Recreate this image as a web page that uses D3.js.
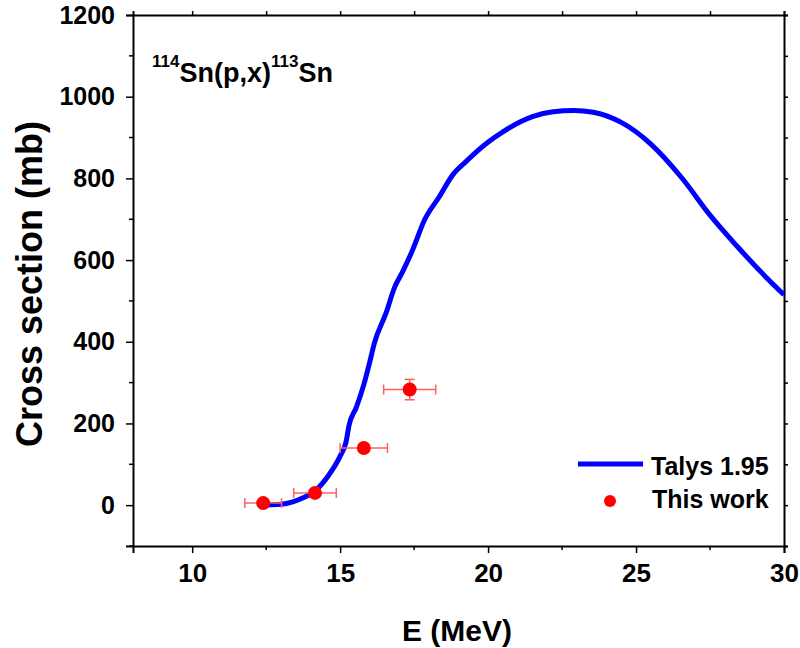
<!DOCTYPE html>
<html>
<head>
<meta charset="utf-8">
<script src="https://cdn.jsdelivr.net/npm/d3@7"></script>
<style>
  body { margin: 0; background: #fff; }
  text { font-family: "Liberation Sans", Arial, sans-serif; font-weight: bold; }
</style>
</head>
<body>
<div id="chart"></div>
<script>
// Talys 1.95 curve
var talysE = [12.25, 13.0, 13.4, 13.75, 14.2, 14.6, 15.0, 15.2, 15.3, 15.55, 15.8, 16.0, 16.15, 16.55, 16.85, 17.1, 17.45, 17.85, 18.35, 18.8, 19.25, 19.95, 20.5, 21.5, 22.2, 22.9, 23.55, 24.5, 25.5, 26.55, 27.5, 28.4, 29.3, 30.0];
var talysXS = [0, 2, 8, 18, 38, 72, 120, 155, 195, 240, 295, 350, 395, 470, 535, 570, 625, 698, 755, 808, 841, 886, 914, 951, 963, 966, 962, 937, 884, 801, 710, 635, 565, 515];

// measured points (this work)
var expE = [12.4, 14.15, 15.8, 17.35];
var expXS = [5, 30, 140, 283];
var expEerr = [0.62, 0.72, 0.8, 0.88];
var expXSerr = [3, 4, 8, 25];

var xTicks = [10, 15, 20, 25, 30];
var yTicks = [0, 200, 400, 600, 800, 1000, 1200];

var width = 800,
    height = 648,
    margin = {left: 133, right: 16, top: 15, bottom: 102};

var svg = d3.select("#chart")
    .append("svg")
    .attr("width", width)
    .attr("height", height);

var x = d3.scaleLinear().domain([8, 30]).range([margin.left, width - margin.right]);
var y = d3.scaleLinear().domain([-100, 1200]).range([height - margin.bottom, margin.top]);

/* minor ticks */
var xMinor = d3.range(7.5, 30.1, 2.5).filter(function(d) { return d >= 8 && xTicks.indexOf(d) < 0; });
var yMinor = d3.range(-100, 1201, 100).filter(function(d) { return yTicks.indexOf(d) < 0; });

var bottomAxis = svg.append("g")
    .attr("transform", "translate(0," + y.range()[0] + ")")
    .call(d3.axisBottom(x).tickValues(xTicks).tickSize(7).tickPadding(11).tickFormat(d3.format("d")));
bottomAxis.append("g").selectAll("line").data(xMinor).enter().append("line")
    .attr("x1", x).attr("x2", x).attr("y1", 0).attr("y2", 4);

var leftAxis = svg.append("g")
    .attr("transform", "translate(" + x.range()[0] + ",0)")
    .call(d3.axisLeft(y).tickValues(yTicks).tickSize(7).tickPadding(11).tickFormat(d3.format("d")));
leftAxis.append("g").selectAll("line").data(yMinor).enter().append("line")
    .attr("y1", y).attr("y2", y).attr("x1", 0).attr("x2", -4);

var topAxis = svg.append("g")
    .attr("transform", "translate(0," + y.range()[1] + ")")
    .call(d3.axisTop(x).tickValues(xTicks.concat(xMinor)).tickSize(4).tickFormat(""));

var rightAxis = svg.append("g")
    .attr("transform", "translate(" + x.range()[1] + ",0)")
    .call(d3.axisRight(y).tickValues(yTicks.concat(yMinor)).tickSize(4).tickFormat(""));

[bottomAxis, leftAxis, topAxis, rightAxis].forEach(function(a) {
    a.select(".domain").attr("stroke", "#000").attr("stroke-width", 2);
    a.selectAll("line").attr("stroke", "#000").attr("stroke-width", 1.5);
    a.selectAll("text").attr("fill", "#000")
        .attr("font-family", "Liberation Sans, Arial, sans-serif").attr("font-weight", "bold");
});
bottomAxis.selectAll("text").attr("font-size", 26);
leftAxis.selectAll("text").attr("font-size", 25);

/* Talys curve */
var curveData = talysE.map(function(e, i) { return {e: e, v: talysXS[i]}; });
var line = d3.line()
    .x(function(d) { return x(d.e); })
    .y(function(d) { return y(d.v); })
    .curve(d3.curveMonotoneX);

svg.append("path")
    .datum(curveData)
    .attr("fill", "none")
    .attr("stroke", "#0000ff")
    .attr("stroke-width", 5)
    .attr("d", line);

/* error bars and points */
var pts = expE.map(function(e, i) {
    return {e: e, v: expXS[i], de: expEerr[i], dv: expXSerr[i]};
});
var errColor = "#ff6060";
var eb = svg.append("g").attr("stroke", errColor).attr("stroke-width", 1.5);
pts.forEach(function(d) {
    eb.append("line").attr("x1", x(d.e - d.de)).attr("x2", x(d.e + d.de)).attr("y1", y(d.v)).attr("y2", y(d.v));
    eb.append("line").attr("x1", x(d.e - d.de)).attr("x2", x(d.e - d.de)).attr("y1", y(d.v) - 5).attr("y2", y(d.v) + 5);
    eb.append("line").attr("x1", x(d.e + d.de)).attr("x2", x(d.e + d.de)).attr("y1", y(d.v) - 5).attr("y2", y(d.v) + 5);
    eb.append("line").attr("x1", x(d.e)).attr("x2", x(d.e)).attr("y1", y(d.v - d.dv)).attr("y2", y(d.v + d.dv));
    eb.append("line").attr("x1", x(d.e) - 5).attr("x2", x(d.e) + 5).attr("y1", y(d.v - d.dv)).attr("y2", y(d.v - d.dv));
    eb.append("line").attr("x1", x(d.e) - 5).attr("x2", x(d.e) + 5).attr("y1", y(d.v + d.dv)).attr("y2", y(d.v + d.dv));
});

svg.append("g").selectAll("circle").data(pts).enter().append("circle")
    .attr("cx", function(d) { return x(d.e); })
    .attr("cy", function(d) { return y(d.v); })
    .attr("r", 7)
    .attr("fill", "#ff0000");

/* axis titles */
svg.append("text")
    .attr("x", 457).attr("y", 641)
    .attr("text-anchor", "middle")
    .attr("font-size", 30)
    .text("E (MeV)");

svg.append("text")
    .attr("transform", "translate(42,284) rotate(-90)")
    .attr("text-anchor", "middle")
    .attr("font-size", 36)
    .text("Cross section (mb)");

/* reaction label */
var lab = svg.append("text").attr("x", 152).attr("y", 82).attr("font-size", 27);
lab.append("tspan").attr("font-size", 17).attr("dy", -15).text("114");
lab.append("tspan").attr("dy", 15).text("Sn(p,x)");
lab.append("tspan").attr("font-size", 17).attr("dy", -15).text("113");
lab.append("tspan").attr("dy", 15).text("Sn");

/* legend */
var leg = svg.append("g");
leg.append("line").attr("x1", 578).attr("x2", 643).attr("y1", 464).attr("y2", 464)
    .attr("stroke", "#0000ff").attr("stroke-width", 5);
leg.append("text").attr("x", 651).attr("y", 475).attr("font-size", 25).text("Talys 1.95");
leg.append("circle").attr("cx", 610).attr("cy", 501).attr("r", 6).attr("fill", "#ff0000");
leg.append("text").attr("x", 652).attr("y", 508).attr("font-size", 25).text("This work");
</script>
</body>
</html>
